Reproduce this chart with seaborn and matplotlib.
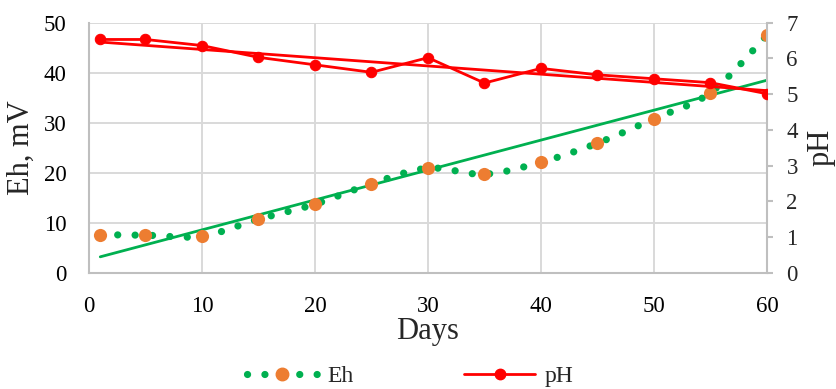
import seaborn as sns
import matplotlib.pyplot as plt
import numpy as np
from matplotlib.lines import Line2D

days = [1, 5, 10, 15, 20, 25, 30, 35, 40, 45, 50, 55, 60]
eh = [7.6, 7.5, 7.3, 10.7, 13.7, 17.8, 20.9, 19.7, 22.1, 25.9, 30.8, 36.0, 47.5]
ph = [6.53, 6.53, 6.36, 6.03, 5.82, 5.61, 6.02, 5.31, 5.72, 5.54, 5.43, 5.32, 5.01]

GREEN = "#00b050"
ORANGE = "#ed7d31"
RED = "#ff0000"
GRID = "#d9d9d9"


def smooth_line(x, y, n=30):
    # bezier smoothing like a spreadsheet "smoothed line"
    pts = np.column_stack([x, y]).astype(float)
    P = np.vstack([pts[0], pts, pts[-1]])
    t = np.linspace(0, 1, n)[:, None]
    segs = []
    for i in range(1, len(P) - 2):
        p0, p1, p2, p3 = P[i - 1], P[i], P[i + 1], P[i + 2]
        c1 = p1 + (p2 - p0) / 6
        c2 = p2 - (p3 - p1) / 6
        seg = (1 - t)**3 * p1 + 3 * (1 - t)**2 * t * c1 + 3 * (1 - t) * t**2 * c2 + t**3 * p2
        segs.append(seg if i == 1 else seg[1:])
    return np.vstack(segs)


sns.set_theme(style="white")
plt.rcParams["font.family"] = ["Liberation Serif", "DejaVu Serif"]

fig = plt.figure(figsize=(8.37, 3.89), dpi=100)
ax = fig.add_axes([0.1063, 0.299, 0.81, 0.6427])
ax2 = ax.twinx()

# Eh
curve = smooth_line(days, eh)
dotted = (0, (0.01, 2.4))
ax.plot(curve[:, 0], curve[:, 1], color=GREEN, lw=5.2, linestyle=dotted,
        dash_capstyle="round", zorder=2)
sns.regplot(x=days, y=eh, ax=ax, scatter=False, ci=None, color=GREEN,
            line_kws={"lw": 2.0, "zorder": 3})
sns.scatterplot(x=days, y=eh, ax=ax, color=ORANGE, s=90, edgecolor=ORANGE,
                linewidth=0, zorder=4)

# pH
sns.lineplot(x=days, y=ph, ax=ax2, color=RED, lw=2.0, marker="o",
             markersize=7.5, markeredgecolor=RED, zorder=3)
sns.regplot(x=days, y=ph, ax=ax2, scatter=False, ci=None, color=RED,
            line_kws={"lw": 2.0, "zorder": 3})

ax.set_xlim(0, 60)
ax.set_ylim(0, 50)
ax2.set_ylim(0, 7)
ax.set_xticks(range(0, 61, 10))
ax.set_yticks(range(0, 51, 10))
ax2.set_yticks(range(0, 8))

ax.grid(True, color=GRID, lw=1.4)
ax.set_axisbelow(True)
ax2.grid(False)

for a in (ax, ax2):
    for s in a.spines.values():
        s.set_visible(False)
ax.spines["left"].set_visible(True)
ax.spines["bottom"].set_visible(True)
ax2.spines["right"].set_visible(True)
for s in (ax.spines["left"], ax.spines["bottom"], ax2.spines["right"]):
    s.set_color("#bfbfbf")
    s.set_linewidth(1.5)

ax.tick_params(axis="both", length=0, labelsize=16.5, colors="#000000")
ax.tick_params(axis="y", pad=16)
ax.tick_params(axis="x", pad=17)
ax2.tick_params(axis="y", length=4, width=1.5, color="#bfbfbf",
                labelsize=16.5, pad=10, right=True)

ax.set_xlabel("Days", fontsize=22, labelpad=0)
ax.set_ylabel("Eh, mV", fontsize=22, labelpad=6)
ax2.set_ylabel("pH", fontsize=22, labelpad=6)

handles = [
    Line2D([0], [0], color=GREEN, lw=5.2, linestyle=(0, (0.01, 2.4)),
           dash_capstyle="round", marker="o", markersize=9,
           markerfacecolor=ORANGE, markeredgecolor=ORANGE),
    Line2D([0], [0], color=RED, lw=2.0, marker="o", markersize=7.5,
           markerfacecolor=RED, markeredgecolor=RED),
]
fig.legend(handles, ["Eh", "pH"], loc="lower center", bbox_to_anchor=(0.49, -0.05),
           ncol=2, frameon=False, fontsize=17, handlelength=3.0,
           handletextpad=0.4, columnspacing=4.7, numpoints=1)

fig.savefig("out.png", dpi=100)
